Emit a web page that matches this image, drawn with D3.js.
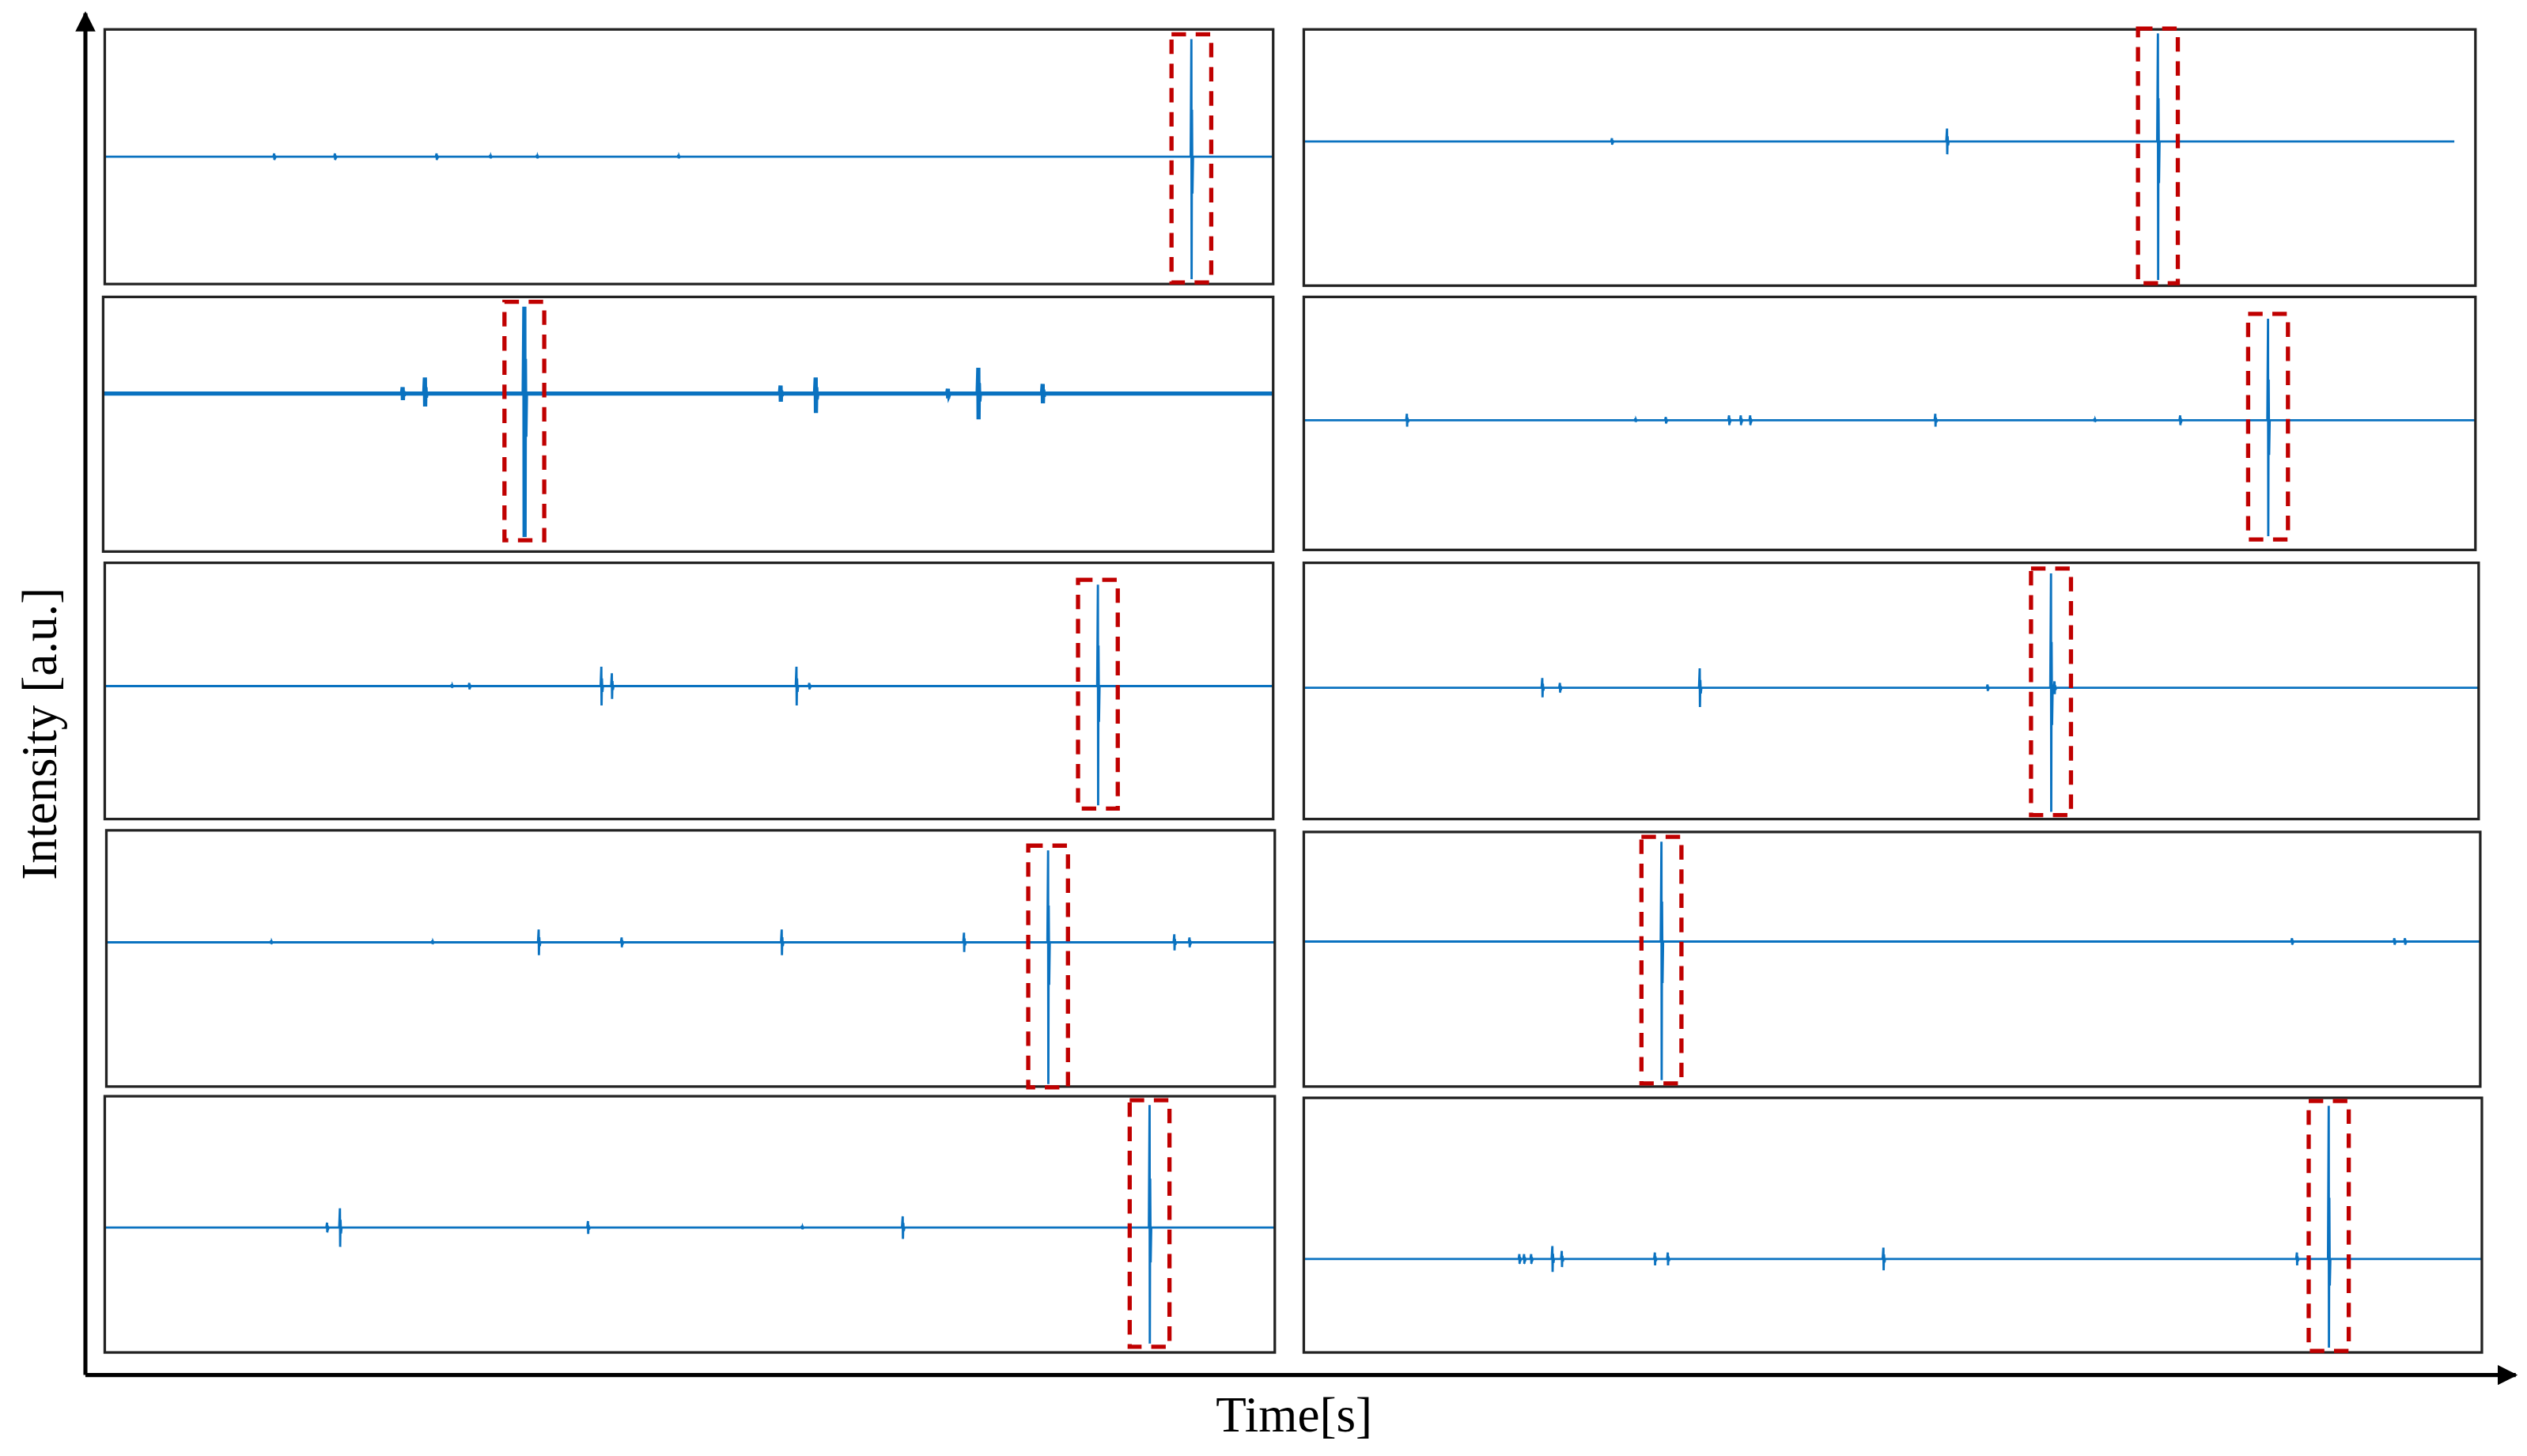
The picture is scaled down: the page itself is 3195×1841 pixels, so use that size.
<!DOCTYPE html>
<html><head><meta charset="utf-8">
<script src="https://cdn.jsdelivr.net/npm/d3@7"></script>
<style>body{margin:0;background:#fff}</style></head>
<body><svg id="c"></svg>
<script>
// ---- data (time in s, intensity in a.u.) ----
const panelNames = ["A1","B1","A2","B2","A3","B3","A4","B4","A5","B5"];
const baselines = [0, 10, 19, 2, 3, 2, 10, 11, -2, -21];
const lineEnd = [100, 98.2, 100, 100, 100, 100, 100, 100, 100, 100];
const smallTimes = [
 [14.5,19.7,28.4,33.0,37.0,49.1],
 [26.3,54.9],
 [25.6,27.5,57.9,60.9,72.2,74.8,80.3],
 [8.8,28.3,30.9,36.3,37.3,38.1,53.9,67.5,74.8],
 [29.7,31.2,42.5,43.4,59.2,60.3],
 [20.3,21.8,33.7,58.2,63.9],
 [14.1,27.9,37.0,44.1,57.8,73.4,91.4,92.7],
 [84.0,92.7,93.6],
 [19.0,20.1,41.3,59.6,68.2],
 [18.3,18.7,19.3,21.1,21.9,29.8,30.9,49.2,84.3]
];
const smallUp = [
 [2,2,2,1,1,1],[2,8],[4,10,5,10,3,16,6],[4,1,2,3,3,3,4,1,3],[1,2,12,8,12,2],
 [6,3,12,2,4],[1,1,8,3,8,6,5,3],[2,2,2],[3,12,4,1,7],[3,3,3,8,5,4,4,7,4]
];
const smallDown = [
 [2,2,2,1,1,1],[2,8],[4,8,5,12,3,16,6],[4,1,2,3,3,3,4,1,3],[1,2,12,8,12,2],
 [6,3,12,2,4],[1,1,8,3,8,6,5,3],[2,2,2],[3,12,4,1,7],[3,3,3,8,5,4,4,7,4]
];
const bigTime = [93.0,72.9,36.0,82.3,85.0,63.6,80.6,30.4,89.3,87.0];
const bigUp   = [73,67,54,63,63,71,57,62,76,95];
const bigDown = [76,86,89,72,74,77,88,86,72,55];
const noise = [0,0,1,0,0,0,0,0,0,0];

// ---- layout (display units, scaled by viewBox) ----
const W=1568,H=903;
const layout = [
 [65,18,790,176],[809,18,1536,177],
 [64,184,790,342],[809,184,1536,341],
 [65,349,790,508],[809,349,1538,508],
 [66,515,791,674],[809,516,1539,674],
 [65,680,791,839],[809,681,1540,839]
];
const svg=d3.select("#c").attr("width",3195).attr("height",1841).attr("viewBox",`0 0 ${W} ${H}`);
const defs=svg.append("defs");
defs.append("marker").attr("id","ar").attr("viewBox","0 0 10 10").attr("refX",9).attr("refY",5)
 .attr("markerWidth",5).attr("markerHeight",5).attr("orient","auto-start-reverse")
 .append("path").attr("d","M0,0L10,5L0,10Z").attr("fill","#000");

panelNames.forEach((n,i)=>{
  const [x0,y0,x1,y1]=layout[i];
  const x=d3.scaleLinear().domain([0,100]).range([x0,x1]);
  const half=(y1-y0)/2;
  const y=d3.scaleLinear().domain([-half,half]).range([y1,y0]);
  const b=baselines[i];
  const pts=[[0,b]];
  const spikes=smallTimes[i].map((t,k)=>({t,u:smallUp[i][k],d:smallDown[i][k]}));
  spikes.push({t:bigTime[i],u:bigUp[i],d:bigDown[i]});
  spikes.sort((a,c)=>a.t-c.t);
  spikes.forEach(s=>{
    pts.push([s.t-0.06,b],[s.t,b+s.u],[s.t+0.02,b-s.d],[s.t+0.05,b+s.u*0.4],[s.t+0.09,b-s.d*0.3],[s.t+0.14,b]);
  });
  pts.push([lineEnd[i],b]);
  const g=svg.append("g");
  g.append("path").datum(pts).attr("d",d3.line().x(d=>x(d[0])).y(d=>y(d[1])))
   .attr("fill","none").attr("stroke","#0a72c0").attr("stroke-width",noise[i]?2.6:1.4);
  g.append("rect").attr("x",x0).attr("y",y0).attr("width",x1-x0).attr("height",y1-y0)
   .attr("fill","none").attr("stroke","#222").attr("stroke-width",1.6);
  // red dashed box around the largest spike
  const bx0=x(bigTime[i]-1.7), bx1=x(bigTime[i]+1.7);
  const by0=y(b+bigUp[i])-3, by1=y(b-bigDown[i])+2;
  g.append("rect").attr("x",bx0).attr("y",by0).attr("width",bx1-bx0).attr("height",by1-by0)
   .attr("fill","none").attr("stroke","#c00000").attr("stroke-width",2.6).attr("stroke-dasharray","9,6");
});

svg.append("line").attr("x1",53).attr("y1",853).attr("x2",53).attr("y2",8)
 .attr("stroke","#000").attr("stroke-width",2.5).attr("marker-end","url(#ar)");
svg.append("line").attr("x1",53).attr("y1",853).attr("x2",1561).attr("y2",853)
 .attr("stroke","#000").attr("stroke-width",2.5).attr("marker-end","url(#ar)");
svg.append("text").attr("transform","translate(35,455) rotate(-90)").attr("text-anchor","middle")
 .attr("font-family","Liberation Serif").attr("font-size",31).text("Intensity [a.u.]");
svg.append("text").attr("x",803).attr("y",888).attr("text-anchor","middle")
 .attr("font-family","Liberation Serif").attr("font-size",31).text("Time[s]");
</script></body></html>
